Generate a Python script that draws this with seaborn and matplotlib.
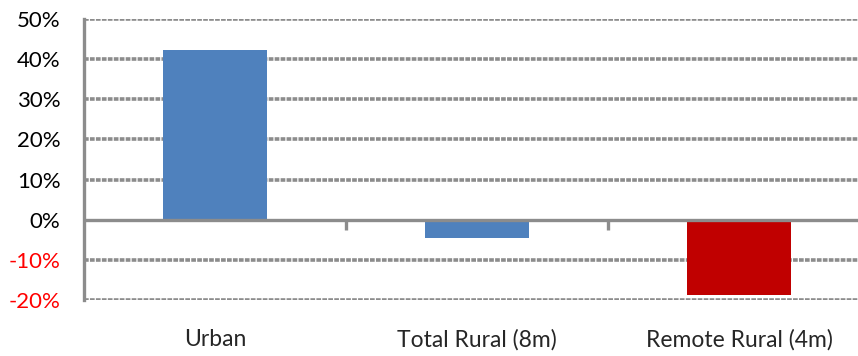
import matplotlib
matplotlib.use("Agg")
import matplotlib.pyplot as plt
import seaborn as sns
import pandas as pd
from matplotlib.ticker import FuncFormatter, FixedLocator

categories = ["Urban", "Total Rural (8m)", "Remote Rural (4m)"]
values = [42.3, -4.5, -18.7]
bar_colors = ["#4F81BD", "#4F81BD", "#C00000"]
yticks = [-20, -10, 0, 10, 20, 30, 40, 50]

sns.set_style("white")
plt.rcParams['font.family'] = ['Lato', 'DejaVu Sans']

df = pd.DataFrame({"category": categories, "value": values})

fig = plt.figure(figsize=(8.58, 3.56), dpi=100)
ax = fig.add_axes([84/858, 1 - 300/356, (858-84)/858, (300-19)/356])

sns.barplot(data=df, x="category", y="value", hue="category", palette=bar_colors,
            legend=False, width=0.4, ax=ax, saturation=1, edgecolor="none")

ax.set_ylim(-20, 50)
ax.set_xlim(-0.5, 2.454)
ax.yaxis.set_major_locator(FixedLocator(yticks))
ax.yaxis.set_major_formatter(FuncFormatter(lambda v, p: f"{int(v)}%"))

grid_color = "#8C8C8C"
for t in yticks:
    if t == 0:
        ax.axhline(0, color=grid_color, lw=2.4, zorder=3)
    else:
        ax.axhline(t, color=grid_color, lw=2.6, ls=(0, (1.3, 0.35)), zorder=0)

for s in ["top", "right", "bottom"]:
    ax.spines[s].set_visible(False)
ax.spines["left"].set_color(grid_color)
ax.spines["left"].set_linewidth(2.4)

ax.tick_params(axis="y", which="major", length=8, width=2.4, color=grid_color,
               direction="out", labelsize=16, pad=9)
ax.set_xticks(range(len(categories)))
ax.set_xticklabels(categories)
ax.tick_params(axis="x", which="major", length=0, labelsize=16.5, pad=21)

# category boundary ticks hanging from the zero line
for b in [0.5, 1.5]:
    ax.plot([b, b], [0, -2.5], color=grid_color, lw=2.4, zorder=3, solid_capstyle="butt")

for lbl, v in zip(ax.get_yticklabels(), yticks):
    lbl.set_color("red" if v < 0 else "black")

ax.set_xlabel("")
ax.set_ylabel("")
fig.savefig("out.png", dpi=100)
